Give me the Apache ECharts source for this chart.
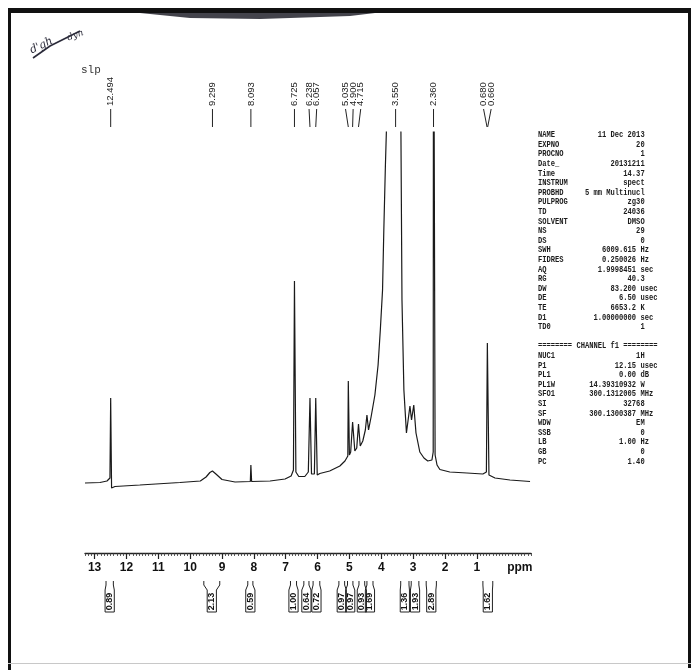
<!DOCTYPE html>
<html><head><meta charset="utf-8">
<script src="https://cdn.jsdelivr.net/npm/echarts@6/dist/echarts.min.js"></script>
<style>html,body{margin:0;padding:0;background:#fff}#c{width:691px;height:670px}</style>
</head><body><div id="c"></div>
<script>
// ---- traced 1H spectrum (ppm, intensity in arbitrary units) ----
const spectrumPpm = [13.30, 12.83, 12.61, 12.517, 12.494, 12.466, 12.36, 11.58, 10.32, 9.68, 9.50, 9.38, 9.30, 9.19, 9.00, 8.59, 8.11, 8.093, 8.07, 7.49, 7.02, 6.83, 6.757, 6.725, 6.68, 6.59, 6.40, 6.29, 6.238, 6.19, 6.10, 6.057, 6.01, 5.93, 5.62, 5.30, 5.14, 5.05, 5.035, 5.00, 4.96, 4.90, 4.83, 4.77, 4.715, 4.66, 4.58, 4.50, 4.45, 4.40, 4.32, 4.20, 4.10, 4.03, 3.96, 3.92, 3.87, 3.84, 3.79, 3.55, 3.43, 3.383, 3.35, 3.29, 3.21, 3.10, 3.05, 2.98, 2.91, 2.79, 2.66, 2.54, 2.41, 2.37, 2.36, 2.31, 2.25, 2.16, 1.85, 1.31, 0.81, 0.70, 0.67, 0.62, 0.43, -0.04, -0.67];
const spectrumIntensity = [70, 70.5, 72, 75, 155, 65, 66.5, 68, 70.5, 72, 76, 80.5, 82, 79, 73.5, 71, 71.5, 88, 71.5, 72, 74, 77, 83, 272, 81, 76.5, 76.5, 81, 155, 79, 79, 155, 78, 79.5, 82, 87, 92, 97, 172, 98, 101, 131, 102, 105, 129, 107, 112, 123, 138, 123, 136, 158, 188, 223, 263, 323, 388, 421, 473, 650, 473, 421, 253, 163, 120, 147, 133, 148, 120, 101, 95, 92, 93, 101, 650, 98, 88, 83.5, 81, 80, 79, 81, 210, 78, 75, 73, 71.5];

// ---- peak picking labels ----
const peakPpm = [12.494, 9.299, 8.093, 6.725, 6.238, 6.057, 5.035, 4.900, 4.715, 3.550, 2.360, 0.680, 0.660];

// ---- integrals ----
const integralStart = [12.64, 9.57, 8.19, 6.85, 6.43, 6.14, 5.33, 5.06, 4.70, 4.45, 3.39, 3.06, 2.59, 0.81];
const integralEnd   = [12.41, 9.07, 8.03, 6.66, 6.27, 5.93, 5.15, 4.89, 4.52, 4.26, 3.13, 2.82, 2.27, 0.50];
const integralValue = ['0.89', '2.13', '0.59', '1.00', '0.64', '0.72', '0.97', '0.97', '0.93', '1.69', '1.36', '1.93', '2.89', '1.62'];

// ---- axis ticks ----
const axisTickValues = [13, 12, 11, 10, 9, 8, 7, 6, 5, 4, 3, 2, 1];
const axisTickLabels = ['13', '12', '11', '10', '9', '8', '7', '6', '5', '4', '3', '2', '1'];
const axisUnit = 'ppm';

// ---- acquisition parameters ----
const paramNames  = ['NAME', 'EXPNO', 'PROCNO', 'Date_', 'Time', 'INSTRUM', 'PROBHD', 'PULPROG', 'TD', 'SOLVENT', 'NS', 'DS', 'SWH', 'FIDRES', 'AQ', 'RG', 'DW', 'DE', 'TE', 'D1', 'TD0'];
const paramValues = ['11 Dec 2013', '20', '1', '20131211', '14.37', 'spect', '5 mm Multinucl', 'zg30', '24036', 'DMSO', '29', '0', '6009.615', '0.250026', '1.9998451', '40.3', '83.200', '6.50', '6653.2', '1.00000000', '1'];
const paramUnits  = ['', '', '', '', '', '', '', '', '', '', '', '', 'Hz', 'Hz', 'sec', '', 'usec', 'usec', 'K', 'sec', ''];
const channelTitle = '======== CHANNEL f1 ========';
const channelNames  = ['NUC1', 'P1', 'PL1', 'PL1W', 'SFO1', 'SI', 'SF', 'WDW', 'SSB', 'LB', 'GB', 'PC'];
const channelValues = ['1H', '12.15', '0.00', '14.39310932', '300.1312005', '32768', '300.1300387', 'EM', '0', '1.00', '0', '1.40'];
const channelUnits  = ['', 'usec', 'dB', 'W', 'MHz', '', 'MHz', '', '', 'Hz', '', ''];
const sampleName = 'slp';

// ================= layout / drawing =================
const chart = echarts.init(document.getElementById('c'), null, {renderer: 'canvas'});
const INK = '#1c1c1c';
const X_MIN = -0.7, X_MAX = 13.3;
const gridBox = {left: 85, right: 160, top: 132, bottom: 117};

function spreadLabels(xs, gap) {
  let groups = xs.map((x, i) => ({idx: [i], center: x}));
  let changed = true;
  while (changed) {
    changed = false;
    for (let g = 0; g < groups.length - 1; g++) {
      const a = groups[g], b = groups[g + 1];
      const aEnd = a.center + (a.idx.length - 1) * gap / 2;
      const bStart = b.center - (b.idx.length - 1) * gap / 2;
      if (bStart - aEnd < gap) {
        const idx = a.idx.concat(b.idx);
        const center = idx.reduce((s, i) => s + xs[i], 0) / idx.length;
        groups.splice(g, 2, {idx, center});
        changed = true;
        break;
      }
    }
  }
  const out = [];
  groups.forEach(g => g.idx.forEach((i, k) => { out[i] = g.center + (k - (g.idx.length - 1) / 2) * gap; }));
  return out;
}

// parameter block text (condensed bold monospace, like the printout)
const MONO = '"Liberation Mono", "DejaVu Sans Mono", monospace';
const pFont = 'bold 9px ' + MONO;
const SX = 0.79;                 // horizontal squeeze
const CW = 9 * 0.6 * SX;         // char width in px
const lineH = 9.6, blockTop = 135, nameX = 538;
const numRight = nameX + 23 * CW, unitX = nameX + 24 * CW, plainRight = nameX + 25 * CW;
const paramGraphics = [];
function txt(x, y, s, align) {
  return {type: 'text', x: x, y: y, scaleX: SX, scaleY: 1,
          style: {text: s, font: pFont, fill: INK, align: align, verticalAlign: 'middle'}};
}
function addParamLine(i, name, value, unit) {
  const y = blockTop + i * lineH;
  paramGraphics.push(txt(nameX, y, name, 'left'));
  if (unit) {
    paramGraphics.push(txt(numRight, y, value, 'right'));
    paramGraphics.push(txt(unitX, y, unit, 'left'));
  } else {
    paramGraphics.push(txt(plainRight, y, value, 'right'));
  }
}
paramNames.forEach((n, i) => addParamLine(i, n, paramValues[i], paramUnits[i]));
const chTitleIdx = paramNames.length + 1;
paramGraphics.push(txt(nameX, blockTop + chTitleIdx * lineH, channelTitle, 'left'));
channelNames.forEach((n, i) => addParamLine(chTitleIdx + 1 + i, n, channelValues[i], channelUnits[i]));

const decor = [
  // scanned page borders
  {type: 'rect', shape: {x: 8, y: 8, width: 683, height: 5}, style: {fill: '#111'}},
  {type: 'polygon', shape: {points: [[140, 13], [375, 13], [350, 16], [260, 19], [190, 18]]}, style: {fill: 'rgba(20,20,30,0.8)'}},
  {type: 'rect', shape: {x: 8, y: 8, width: 3, height: 662}, style: {fill: '#111'}},
  {type: 'rect', shape: {x: 688, y: 8, width: 3, height: 660}, style: {fill: '#111'}},
  {type: 'rect', shape: {x: 8, y: 663, width: 683, height: 1}, style: {fill: '#c8c8c8'}},
  // handwriting
  {type: 'text', x: 28, y: 46, rotation: 0.45, style: {text: "d'gh", font: 'italic 11px "DejaVu Serif", serif', fill: '#2b2b3a'}},
  {type: 'text', x: 66, y: 34, rotation: 0.35, style: {text: 'dyn', font: 'italic 9px "DejaVu Serif", serif', fill: '#2b2b3a'}},
  {type: 'polyline', shape: {points: [[33, 58], [50, 46], [66, 38], [80, 31]]}, style: {stroke: '#2b2b3a', lineWidth: 1.6, fill: null}},
  // sample name
  {type: 'text', x: 81, y: 70, style: {text: sampleName, font: '11px ' + MONO, fill: '#333', verticalAlign: 'middle'}}
];

const option = {
  animation: false,
  backgroundColor: '#fff',
  grid: [
    Object.assign({}, gridBox),
    Object.assign({}, gridBox)
  ],
  xAxis: [
    {type: 'value', gridIndex: 0, min: X_MIN, max: X_MAX, inverse: true, interval: 0.1,
     axisLine: {show: true, onZero: false, lineStyle: {color: '#222', width: 1.3}},
     axisTick: {show: true, length: 3, lineStyle: {color: '#333', width: 0.8}},
     axisLabel: {show: false}, splitLine: {show: false}},
    {type: 'value', gridIndex: 1, min: X_MIN, max: X_MAX, inverse: true,
     axisLine: {show: false, onZero: false},
     axisTick: {show: true, length: 6, customValues: axisTickValues, lineStyle: {color: '#222', width: 1.2}},
     axisLabel: {show: true, margin: 9, customValues: axisTickValues.concat([-0.35]),
       formatter: v => { const k = axisTickValues.indexOf(v); return k >= 0 ? axisTickLabels[k] : axisUnit; },
       color: '#111', fontWeight: 'bold', fontSize: 12, fontFamily: '"Liberation Sans", Arial, sans-serif'},
     splitLine: {show: false}}
  ],
  yAxis: [
    {type: 'value', gridIndex: 0, min: 0, max: 421, show: false},
    {type: 'value', gridIndex: 1, min: 0, max: 421, show: false}
  ],
  graphic: {elements: decor.concat(paramGraphics)},
  series: [
    {type: 'line', xAxisIndex: 0, yAxisIndex: 0, showSymbol: false, symbol: 'none', clip: true,
     lineStyle: {color: '#1a1a1a', width: 1.2}, data: spectrumPpm.map((p, i) => [p, spectrumIntensity[i]])},
    {type: 'custom', xAxisIndex: 0, yAxisIndex: 0, clip: false,
     data: peakPpm.map(p => [p, 0]),
     renderItem: function (params, api) {
       const xs = peakPpm.map(p => api.coord([p, 0])[0]);
       const lx = spreadLabels(xs, 7.6);
       const i = params.dataIndex;
       return {type: 'group', children: [
         {type: 'line', shape: {x1: lx[i], y1: 109, x2: xs[i], y2: 127}, style: {stroke: '#222', lineWidth: 1}},
         {type: 'text', x: lx[i], y: 106, rotation: Math.PI / 2,
          style: {text: peakPpm[i].toFixed(3), fill: '#222', font: '9.5px "Liberation Sans", Arial, sans-serif', align: 'left', verticalAlign: 'middle'}}
       ]};
     }},
    {type: 'custom', xAxisIndex: 0, yAxisIndex: 0, clip: false,
     data: integralStart.map((s, i) => [s, integralEnd[i]]),
     renderItem: function (params, api) {
       const xa = api.coord([api.value(0), 0])[0];
       const xb = api.coord([api.value(1), 0])[0];
       const cx = (xa + xb) / 2, hw = 4.6;
       const y0 = 581, y1 = 585, y2 = 590, y3 = 612;
       return {type: 'group', children: [
         {type: 'polyline', shape: {points: [[xa, y0], [xa, y1], [cx - hw, y2], [cx - hw, y3], [cx + hw, y3], [cx + hw, y2], [xb, y1], [xb, y0]]},
          style: {stroke: '#222', lineWidth: 1, fill: null}},
         {type: 'text', x: cx, y: (y2 + y3) / 2 + 0.5, rotation: Math.PI / 2,
          style: {text: integralValue[params.dataIndex], fill: '#111', font: 'bold 9px "Liberation Sans", Arial, sans-serif', align: 'center', verticalAlign: 'middle'}}
       ]};
     }}
  ]
};
chart.setOption(option);
</script>
</body></html>
